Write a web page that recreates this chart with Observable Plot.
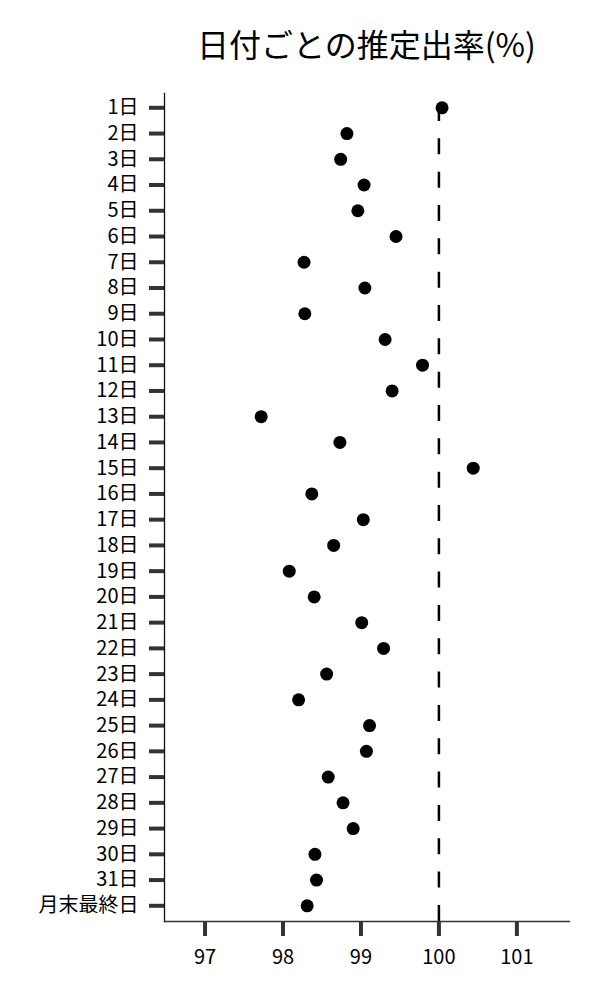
<!DOCTYPE html>
<html>
<head>
<meta charset="utf-8">
<script src="https://cdn.jsdelivr.net/npm/d3@7"></script>
<script src="https://cdn.jsdelivr.net/npm/@observablehq/plot@0.6"></script>
<style>
  html, body { margin: 0; padding: 0; background: #fff; }
  body { width: 600px; font-family: "Noto Sans CJK JP", "Noto Sans", sans-serif; }
  #wrap { position: relative; width: 600px; }
  #title { position: relative; height: 80px; }
  #title span { position: absolute; left: 164px; width: 405px; top: 27px; text-align: center;
    font-size: 32px; line-height: 32px; color: #000; white-space: nowrap; }
  svg { display: block; }
</style>
</head>
<body>
<div id="wrap">
  <div id="title"><span>日付ごとの推定出率(%)</span></div>
  <div id="chart"></div>
</div>
<script>
const days = ["1日","2日","3日","4日","5日","6日","7日","8日","9日","10日",
  "11日","12日","13日","14日","15日","16日","17日","18日","19日","20日",
  "21日","22日","23日","24日","25日","26日","27日","28日","29日","30日","31日","月末最終日"];
const rates = [100.04, 98.82, 98.74, 99.04, 98.96, 99.45, 98.27, 99.05, 98.28, 99.31,
  99.79, 99.40, 97.72, 98.73, 100.44, 98.37, 99.03, 98.65, 98.08, 98.40,
  99.01, 99.29, 98.56, 98.20, 99.11, 99.07, 98.58, 98.77, 98.90, 98.41, 98.43, 98.31];
const xTicks = [97, 98, 99, 100, 101];
const xDomain = [96.48, 101.675];
const reference = [100];

const data = days.map((d, i) => ({day: d, rate: rates[i]}));

const chart = Plot.plot({
  width: 600,
  height: 920,
  marginLeft: 164,
  marginRight: 31,
  marginTop: 13,
  marginBottom: 79,
  style: {fontFamily: "'Noto Sans CJK JP', 'Noto Sans', sans-serif", fontSize: "20px", color: "#000", background: "#fff"},
  x: {domain: xDomain},
  y: {type: "point", domain: days, range: [27.3, 825.3], padding: 0, round: false},
  marks: [
    Plot.ruleX(reference, {stroke: "#000", strokeWidth: 2.5, strokeDasharray: "16,17.33", strokeDashoffset: 21.33}),
    Plot.frame({anchor: "left", stroke: "#111", strokeWidth: 1.3}),
    Plot.frame({anchor: "bottom", stroke: "#333", strokeWidth: 1.3}),
    Plot.axisX({ticks: xTicks, tickFormat: d => String(d), tickSize: 15, tickPadding: 13, stroke: "#333", strokeWidth: 4, fill: "#000", fontSize: 20, label: null}),
    Plot.axisY({tickSize: 15, tickPadding: 11, stroke: "#333", strokeWidth: 4, fill: "#000", fontSize: 20, label: null}),
    Plot.dot(data, {x: "rate", y: "day", r: 6.5, fill: "#000", stroke: "none"})
  ]
});
document.getElementById("chart").appendChild(chart);
</script>
</body>
</html>
